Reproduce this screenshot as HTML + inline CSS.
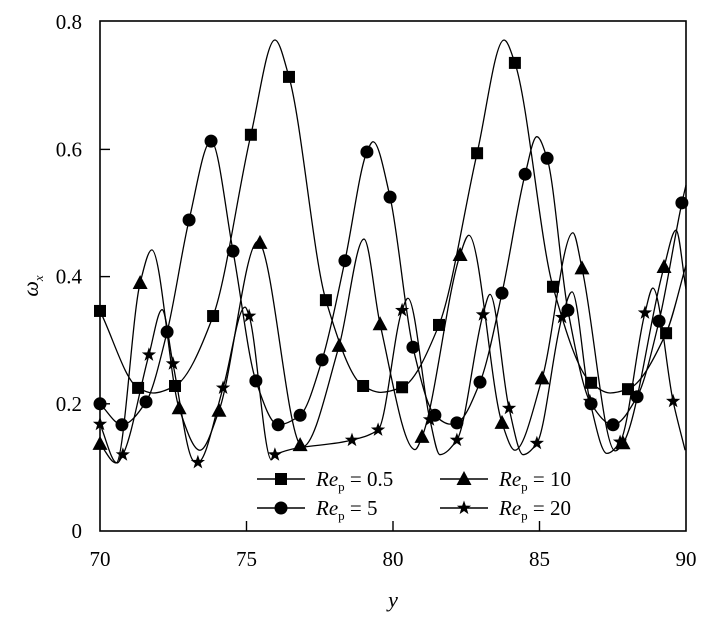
<!DOCTYPE html>
<html><head><meta charset="utf-8"><style>
body{margin:0;background:#fff}
svg text{font-family:"Liberation Serif",serif;fill:#000}
</style></head><body>
<svg id="chart" width="725" height="627" xmlns="http://www.w3.org/2000/svg">
<rect x="100" y="21" width="586" height="510" fill="none" stroke="#000" stroke-width="1.6"/>
<g id="axes"></g>
<g id="series"></g>
<g id="legend"></g>
<text x="393" y="607" font-size="22" font-style="italic" text-anchor="middle">y</text>
<text x="38" y="286" font-size="22" font-style="italic" text-anchor="middle" transform="rotate(-90 38 286)">ω<tspan font-size="13" dy="5">x</tspan></text>
</svg>
<script>
const xTicks=[70,75,80,85,90];
const yTicks=[0,0.2,0.4,0.6,0.8];
const yTickLabels=["0","0.2","0.4","0.6","0.8"];
// series 1 Re_p=0.5 (squares)
const s1CurveX=[70,71.30,71.81,72.56,73.86,75.15,75.97,76.45,77.71,78.98,79.56,80.31,81.57,82.87,83.79,84.16,85.46,86.76,87.41,88.02,89.32,90];
const s1CurveV=[0.346,0.225,0.217,0.228,0.338,0.623,0.772,0.714,0.363,0.228,0.218,0.226,0.324,0.594,0.772,0.736,0.384,0.233,0.217,0.223,0.311,0.418];
const s1MarkX=[70,71.30,72.56,73.86,75.15,76.45,77.71,78.98,80.31,81.57,82.87,84.16,85.46,86.76,88.02,89.32];
const s1MarkV=[0.346,0.225,0.228,0.338,0.623,0.714,0.363,0.228,0.226,0.324,0.594,0.736,0.384,0.233,0.223,0.311];
// series 2 Re_p=5 (circles)
const s2CurveX=[70,70.75,71.57,72.29,73.04,73.79,74.54,75.32,76.08,76.83,77.58,78.36,79.11,79.32,79.90,80.68,81.43,81.95,82.18,82.97,83.72,84.51,84.91,85.26,85.97,86.76,87.51,88.33,89.08,89.86,90];
const s2CurveV=[0.2,0.167,0.203,0.313,0.489,0.613,0.44,0.236,0.167,0.182,0.269,0.425,0.596,0.612,0.525,0.289,0.182,0.168,0.17,0.234,0.374,0.561,0.62,0.586,0.347,0.2,0.167,0.211,0.33,0.516,0.544];
const s2MarkX=[70,70.75,71.57,72.29,73.04,73.79,74.54,75.32,76.08,76.83,77.58,78.36,79.11,79.90,80.68,81.43,82.18,82.97,83.72,84.51,85.26,85.97,86.76,87.51,88.33,89.08,89.86];
const s2MarkV=[0.2,0.167,0.203,0.313,0.489,0.613,0.44,0.236,0.167,0.182,0.269,0.425,0.596,0.525,0.289,0.182,0.17,0.234,0.374,0.561,0.586,0.347,0.2,0.167,0.211,0.33,0.516];
// series 3 Re_p=10 (triangles)
const s3CurveX=[70,70.55,71.37,71.77,72.70,73.41,74.06,75.40,75.46,76.83,76.90,78.16,79.01,79.56,80.75,80.99,82.29,82.59,83.72,84.16,85.09,86.14,86.45,87.58,87.85,89.25,89.66,90];
const s3CurveV=[0.137,0.107,0.39,0.442,0.193,0.127,0.189,0.456,0.453,0.135,0.132,0.291,0.459,0.325,0.128,0.148,0.434,0.465,0.17,0.127,0.24,0.469,0.413,0.126,0.138,0.415,0.473,0.38];
const s3MarkX=[70,71.37,72.70,74.06,75.46,76.83,78.16,79.56,80.99,82.29,83.72,85.09,86.45,87.85,89.25];
const s3MarkV=[0.137,0.39,0.193,0.189,0.453,0.135,0.291,0.325,0.148,0.434,0.17,0.24,0.413,0.138,0.415];
// series 4 Re_p=20 (stars)
const s4CurveX=[70,70.58,70.78,71.67,72.12,72.49,73.20,73.34,74.20,74.95,75.09,75.85,75.97,78.60,79.49,80.31,80.51,81.26,81.60,82.18,83.07,83.31,83.96,84.44,84.91,85.77,86.11,86.72,87.30,87.75,88.60,88.87,89.56,89.97];
const s4CurveV=[0.168,0.107,0.12,0.277,0.348,0.263,0.11,0.108,0.225,0.352,0.338,0.112,0.12,0.143,0.159,0.347,0.366,0.175,0.12,0.143,0.34,0.372,0.193,0.12,0.138,0.336,0.376,0.204,0.122,0.14,0.343,0.382,0.204,0.127];
const s4MarkX=[70,70.78,71.67,72.49,73.34,74.20,75.09,75.97,78.60,79.49,80.31,81.26,82.18,83.07,83.96,84.91,85.77,86.72,87.75,88.60,89.56];
const s4MarkV=[0.168,0.12,0.277,0.263,0.108,0.225,0.338,0.12,0.143,0.159,0.347,0.175,0.143,0.34,0.193,0.138,0.336,0.204,0.14,0.343,0.204];

const NS="http://www.w3.org/2000/svg";
const X=x=>100+(x-70)*29.3, Y=v=>531-v*636;
function mk(tag,attrs,parent){const e=document.createElementNS(NS,tag);for(const k in attrs)e.setAttribute(k,attrs[k]);parent.appendChild(e);return e;}
const axes=document.getElementById('axes');
xTicks.forEach(t=>{
  if(t>70&&t<90){const l=mk('line',{x1:X(t),x2:X(t),y1:531,y2:521,stroke:'#000','stroke-width':1.4},axes);
  
  }
  const tx=mk('text',{x:X(t),y:566,'font-size':21,'text-anchor':'middle'},axes);tx.textContent=t;
  
  
});
yTicks.forEach((t,i)=>{
  if(t>0&&t<0.8){const l=mk('line',{x1:100,x2:110,y1:Y(t),y2:Y(t),stroke:'#000','stroke-width':1.4},axes);
  
  }
  const tx=mk('text',{x:82,y:Y(t)+7,'font-size':21,'text-anchor':'end'},axes);tx.textContent=yTickLabels[i];
  
  
});
// monotone cubic (Fritsch-Carlson)
function pathD(xs,vs){
 const px=xs.map(X),py=vs.map(Y),n=px.length;
 const d=[],m=new Array(n);
 for(let i=0;i<n-1;i++)d.push((py[i+1]-py[i])/(px[i+1]-px[i]));
 m[0]=d[0];m[n-1]=d[n-2];
 for(let i=1;i<n-1;i++){
  if(d[i-1]*d[i]<=0)m[i]=0;
  else{const h0=px[i]-px[i-1],h1=px[i+1]-px[i];m[i]=3*(h0+h1)/((2*h1+h0)/d[i-1]+(h1+2*h0)/d[i]);}
 }
 let s=`M${px[0]},${py[0]}`;
 for(let i=0;i<n-1;i++){const h=(px[i+1]-px[i])/3;
  s+=` C${px[i]+h},${py[i]+m[i]*h} ${px[i+1]-h},${py[i+1]-m[i+1]*h} ${px[i+1]},${py[i+1]}`;}
 return s;}
function marker(type,cx,cy,g){
 if(type==='square')return mk('rect',{x:cx-6,y:cy-6,width:12,height:12,fill:'#000'},g);
 if(type==='circle')return mk('circle',{cx:cx,cy:cy,r:6.5,fill:'#000'},g);
 if(type==='triangle')return mk('polygon',{points:`${cx},${cy-8} ${cx+7.5},${cy+6} ${cx-7.5},${cy+6}`,fill:'#000'},g);
 let pts=[];for(let k=0;k<10;k++){const r=k%2?3:7.5,a=-Math.PI/2+k*Math.PI/5;pts.push((cx+r*Math.cos(a)).toFixed(1)+','+(cy+r*Math.sin(a)).toFixed(1));}
 return mk('polygon',{points:pts.join(' '),fill:'#000'},g);}
const series=[
 {name:'re-0.5',type:'square',cx:s1CurveX,cv:s1CurveV,mx:s1MarkX,mv:s1MarkV},
 {name:'re-5',type:'circle',cx:s2CurveX,cv:s2CurveV,mx:s2MarkX,mv:s2MarkV},
 {name:'re-10',type:'triangle',cx:s3CurveX,cv:s3CurveV,mx:s3MarkX,mv:s3MarkV},
 {name:'re-20',type:'star',cx:s4CurveX,cv:s4CurveV,mx:s4MarkX,mv:s4MarkV}];
const sg=document.getElementById('series');
series.forEach(s=>{
 const g=mk('g',{},sg);
 
 
 const p=mk('path',{d:pathD(s.cx,s.cv),fill:'none',stroke:'#000','stroke-width':1.3},g);
 
 
 s.mx.forEach((x,i)=>{const m=marker(s.type,X(x),Y(s.mv[i]),g);
  
  });
});
const lg=document.getElementById('legend');
const leg=[['square','0.5',257,479],['triangle','10',440,479],['circle','5',257,508],['star','20',440,508]];
leg.forEach(([t,v,x,y])=>{
 const g=mk('g',{},lg);
 
 
 mk('line',{x1:x,x2:x+48,y1:y,y2:y,stroke:'#000','stroke-width':1.4},g);
 marker(t,x+24,y,g);
 const tx=mk('text',{x:x+59,y:y+7,'font-size':21},g);
 tx.innerHTML=`<tspan font-style="italic">Re</tspan><tspan font-size="13" dy="5">p</tspan><tspan dy="-5"> = ${v}</tspan>`;
});
</script>
</body></html>
